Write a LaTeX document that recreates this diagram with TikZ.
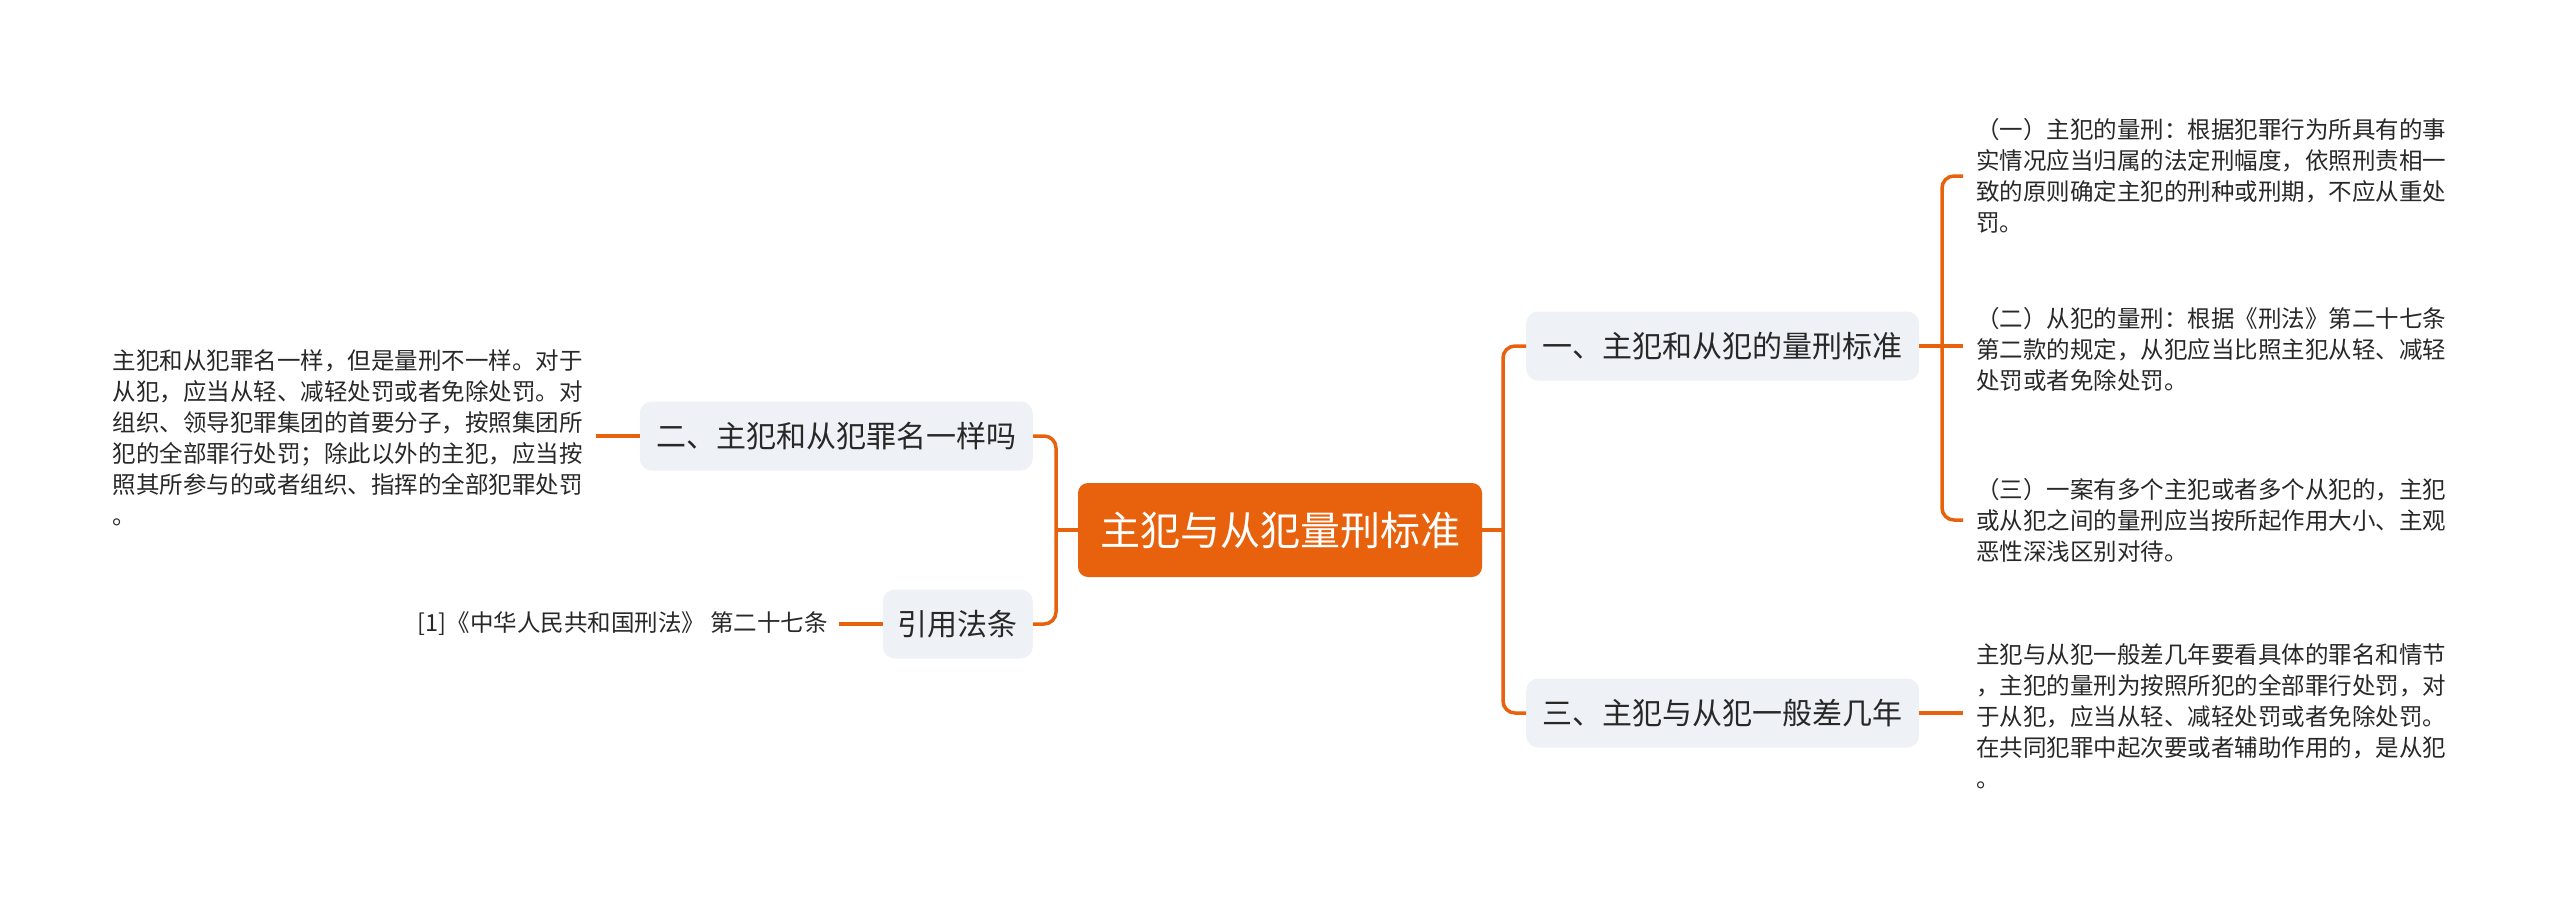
\documentclass[tikz,border=0pt]{standalone}
\usepackage{fontspec}
\setmainfont{Noto Sans CJK SC}
\definecolor{brand}{RGB}{232,98,14}
\definecolor{subfill}{RGB}{238,241,245}
\definecolor{txt}{RGB}{40,40,40}
\begin{document}
\begin{tikzpicture}[x=1pt,y=-1pt,
  conn/.style={draw=brand,line width=3.5pt},
  elbow/.style={conn,rounded corners=12pt},
  mainnode/.style={fill=brand,rounded corners=10pt,minimum width=404pt,minimum height=94pt,
    inner sep=0pt,text=white,font=\fontsize{40}{48}\selectfont},
  subnode/.style={fill=subfill,rounded corners=12pt,minimum height=69pt,inner xsep=15pt,
    inner ysep=0pt,text=txt,font=\fontsize{30}{36}\selectfont},
  leafr/.style={anchor=west,align=left,inner xsep=13pt,inner ysep=0pt,text=txt,
    font=\fontsize{23.5}{31}\selectfont},
  leafl/.style={anchor=east,align=left,inner xsep=13pt,inner ysep=0pt,text=txt,
    font=\fontsize{23.5}{31}\selectfont}
]
\useasboundingbox (0,0) rectangle (2560,903);

\node[mainnode] (main) at (1280,530) {主犯与从犯量刑标准};

\node[subnode,anchor=west,minimum width=393pt] (n1) at (1526,346) {一、主犯和从犯的量刑标准};
\node[subnode,anchor=west,minimum width=393pt] (n3) at (1526,713) {三、主犯与从犯一般差几年};
\node[subnode,anchor=east,minimum width=393pt] (n2) at (1033,436) {二、主犯和从犯罪名一样吗};
\node[subnode,anchor=east,minimum width=150pt] (cite) at (1033,624) {引用法条};

\node[leafr] (l1) at (1963,176) {（一）主犯的量刑：根据犯罪行为所具有的事\\实情况应当归属的法定刑幅度，依照刑责相一\\致的原则确定主犯的刑种或刑期，不应从重处\\罚。};
\node[leafr] (l2) at (1963,349) {（二）从犯的量刑：根据《刑法》第二十七条\\第二款的规定，从犯应当比照主犯从轻、减轻\\处罚或者免除处罚。};
\node[leafr] (l3) at (1963,520) {（三）一案有多个主犯或者多个从犯的，主犯\\或从犯之间的量刑应当按所起作用大小、主观\\恶性深浅区别对待。};
\node[leafr] (l4) at (1963,716) {主犯与从犯一般差几年要看具体的罪名和情节\\，主犯的量刑为按照所犯的全部罪行处罚，对\\于从犯，应当从轻、减轻处罚或者免除处罚。\\在共同犯罪中起次要或者辅助作用的，是从犯\\。};
\node[leafl] (l5) at (596,438) {主犯和从犯罪名一样，但是量刑不一样。对于\\从犯，应当从轻、减轻处罚或者免除处罚。对\\组织、领导犯罪集团的首要分子，按照集团所\\犯的全部罪行处罚；除此以外的主犯，应当按\\照其所参与的或者组织、指挥的全部犯罪处罚\\。};
\node[leafl,inner xsep=11pt] (l6) at (839,624) {[1]《中华人民共和国刑法》 第二十七条};

\coordinate (jr) at (1503,530);
\coordinate (jl) at (1056,530);
\coordinate (b1) at (1942,346);

\draw[conn] (main.east) -- (jr);
\draw[elbow] (jr) |- (n1.west);
\draw[elbow] (jr) |- (n3.west);
\draw[conn] (main.west) -- (jl);
\draw[elbow] (jl) |- (n2.east);
\draw[elbow] (jl) |- (cite.east);

\draw[conn] (n1.east) -- (b1);
\draw[elbow] (b1) |- (l1.west);
\draw[conn] (b1) -- (l2.west |- b1);
\draw[elbow] (b1) |- (l3.west);
\draw[conn] (n3.east) -- (l4.west |- n3.east);
\draw[conn] (n2.west) -- (l5.east |- n2.west);
\draw[conn] (cite.west) -- (l6.east);
\end{tikzpicture}
\end{document}
